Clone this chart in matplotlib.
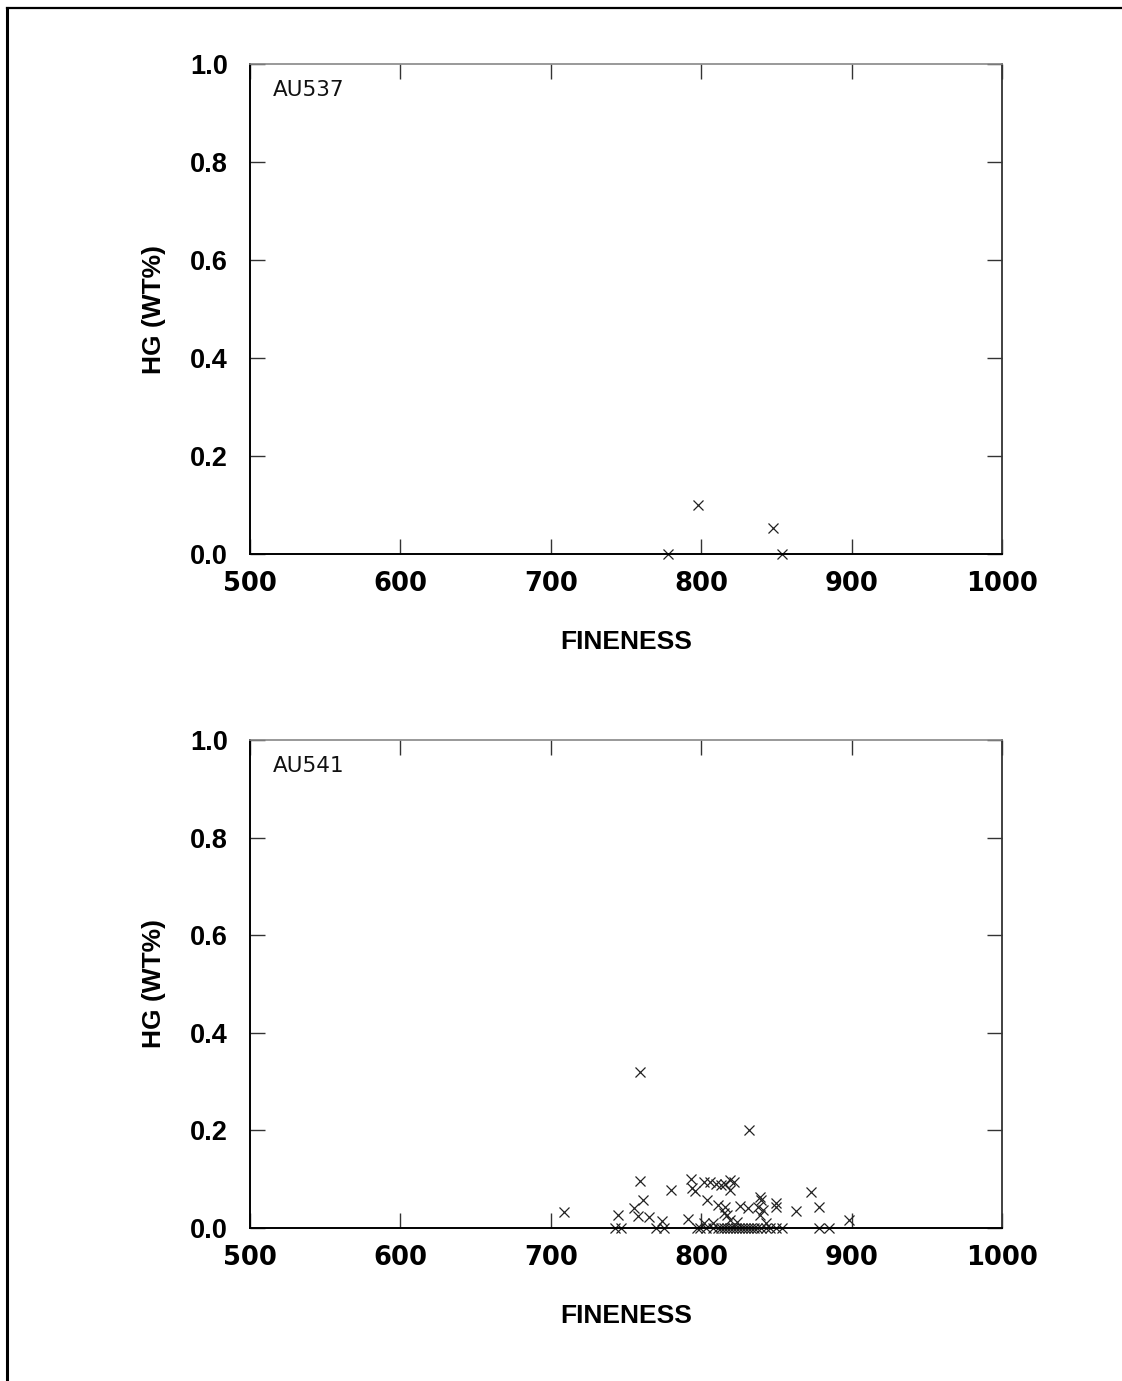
import matplotlib
matplotlib.use("Agg")
import matplotlib.pyplot as plt
from matplotlib.lines import Line2D

# Sample AU537
au537_fineness = [778, 798, 848, 854]
au537_hg = [0.0, 0.10, 0.053, 0.0]

# Sample AU541
au541_fineness = [759, 832, 709, 745, 743, 747, 759, 761, 755, 758, 765, 770, 775, 774,
                  780, 791, 793, 794, 796, 797, 799, 802, 806, 804, 802, 810, 813, 816,
                  819, 822, 819, 811, 816, 815, 817, 808, 826, 831, 819, 824, 839, 840,
                  838, 841, 839, 843, 850, 850, 863, 873, 878, 898, 878, 885, 854, 850,
                  803, 808, 811, 813, 815, 817, 819, 821, 823, 825, 827, 829, 831, 833,
                  835, 837, 840, 843, 846]
au541_hg = [0.32, 0.20, 0.032, 0.027, 0.0, 0.0, 0.096, 0.057, 0.042, 0.025, 0.023, 0.0, 0.0, 0.014,
            0.078, 0.018, 0.10, 0.081, 0.076, 0.0, 0.0, 0.095, 0.095, 0.057, 0.010, 0.090, 0.088, 0.090,
            0.098, 0.095, 0.078, 0.047, 0.044, 0.030, 0.027, 0.010, 0.045, 0.040, 0.016, 0.013, 0.064, 0.057,
            0.044, 0.037, 0.027, 0.010, 0.051, 0.044, 0.035, 0.073, 0.044, 0.016, 0.0, 0.0, 0.0, 0.0,
            0.0, 0.0, 0.0, 0.0, 0.0, 0.0, 0.0, 0.0, 0.0, 0.0, 0.0, 0.0, 0.0, 0.0,
            0.0, 0.0, 0.0, 0.0, 0.0]

x_ticks = [500, 600, 700, 800, 900, 1000]
y_ticks = [0.0, 0.2, 0.4, 0.6, 0.8, 1.0]

W, H = 1122, 1381
fig = plt.figure(figsize=(W / 100, H / 100), dpi=100)
fig.patch.set_facecolor("white")

lib_bold = dict(family="Liberation Sans", weight="bold")
dv_bold = dict(family="DejaVu Sans", weight="bold")


def panel(rect, xs, ys, name):
    ax = fig.add_axes(rect)
    ax.plot(xs, ys, linestyle="none", marker="x", markersize=7,
            markeredgewidth=0.9, color="#222222", clip_on=False)
    ax.set_xlim(500, 1000)
    ax.set_ylim(0, 1.0)
    ax.set_xticks(x_ticks)
    ax.set_yticks(y_ticks)
    ax.set_xticklabels([str(v) for v in x_ticks], fontsize=18.5, **dv_bold)
    ax.set_yticklabels([f"{v:.1f}" for v in y_ticks], fontsize=19.5, **lib_bold)
    ax.tick_params(direction="in", length=11, width=1.0, top=True, right=True,
                   color="#333333")
    ax.tick_params(axis="x", pad=12)
    ax.tick_params(axis="y", pad=16)
    ax.set_xlabel("FINENESS", fontsize=19, labelpad=24, **lib_bold)
    ax.set_ylabel("HG (WT%)", fontsize=19, labelpad=17, **lib_bold)
    for side in ("left", "bottom"):
        ax.spines[side].set_linewidth(1.4)
        ax.spines[side].set_color("black")
    ax.spines["right"].set_color("#333333")
    ax.spines["right"].set_linewidth(1.3)
    ax.spines["top"].set_color("#888888")
    ax.spines["top"].set_linewidth(1.2)
    ax.text(0.031, 0.967, name, transform=ax.transAxes, ha="left", va="top",
            fontsize=15.5, family="DejaVu Sans", color="#111111")
    return ax


left = 250 / W
width = 752 / W
panel([left, 1 - 554 / H, width, 490 / H], au537_fineness, au537_hg, "AU537")
panel([left, 1 - 1228 / H, width, 488 / H], au541_fineness, au541_hg, "AU541")

# page frame along the top and left edges
fig.add_artist(Line2D([7 / W, 7 / W], [0, 1 - 8 / H], transform=fig.transFigure,
                      color="black", linewidth=2.2))
fig.add_artist(Line2D([7 / W, 1], [1 - 8 / H, 1 - 8 / H], transform=fig.transFigure,
                      color="black", linewidth=1.6))

fig.savefig("out.png", dpi=100, facecolor="white")
